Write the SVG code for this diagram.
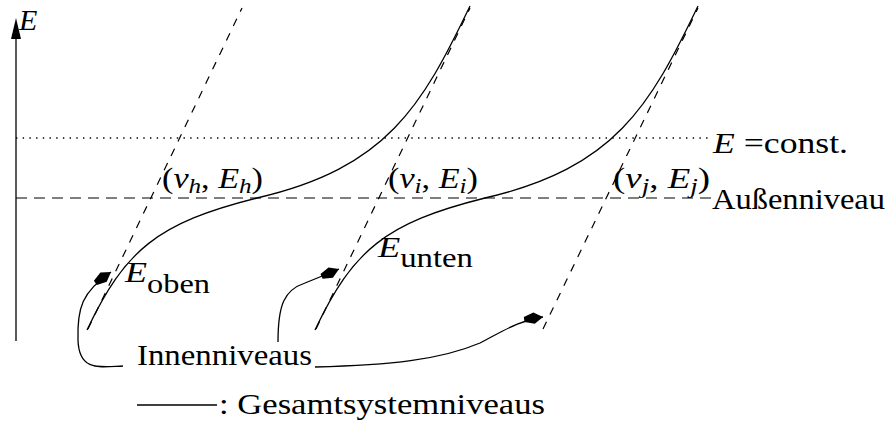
<svg xmlns="http://www.w3.org/2000/svg" width="891" height="431" viewBox="0 0 891 431">
<style>
  .ln { fill: none; stroke: #000; stroke-width: 1.3; }
  .slant { fill: none; stroke: #000; stroke-width: 1.2; stroke-dasharray: 8 8; }
  .hdash { fill: none; stroke: #000; stroke-width: 1.2; stroke-dasharray: 11 7; }
  .dot { fill: none; stroke: #000; stroke-width: 1.4; stroke-dasharray: 1.4 5.3; }
  .m { font-style: italic; }
  .sub { font-size: 22px; }
</style>
<defs>
  <marker id="head" markerUnits="userSpaceOnUse" markerWidth="26" markerHeight="16" viewBox="-22 -8 24 16" refX="0" refY="0" orient="auto">
    <path d="M0,0 L-9,-5.6 L-19,-2.6 L-19,2.6 L-9,5.6 Z" fill="#000"/>
  </marker>
</defs>

<g id="axis">
  <line class="ln" x1="16" y1="341" x2="16" y2="36"/>
  <polygon points="16,18 11,39 21,39" fill="#000"/>
  <text class="m" x="19" y="30" font-family="Liberation Serif, serif" font-size="30">E</text>
</g>

<g id="guides">
  <line class="dot" x1="16" y1="138" x2="711" y2="138"/>
  <line class="hdash" x1="16" y1="198" x2="711" y2="198"/>
  <line class="slant" x1="88" y1="329" x2="242" y2="8"/>
  <line class="slant" x1="316" y1="329" x2="470" y2="8"/>
  <line class="slant" x1="543" y1="329" x2="698" y2="8"/>
</g>

<g id="curves">
  <path class="ln" d="M87,330 C125,250 157,223 257,198 C387,168 422,106 470,6"/>
  <path class="ln" d="M315,330 C353,250 385,223 485,198 C615,168 650,106 698,6"/>
</g>

<g id="labels" font-family="Liberation Serif, serif" font-size="30" fill="#000">
  <text x="162" y="188" textLength="101" lengthAdjust="spacingAndGlyphs">(<tspan class="m">v</tspan><tspan class="m sub" dy="5">h</tspan><tspan dy="-5">, </tspan><tspan class="m">E</tspan><tspan class="m sub" dy="5">h</tspan><tspan dy="-5">)</tspan></text>
  <text x="388" y="188" textLength="90" lengthAdjust="spacingAndGlyphs">(<tspan class="m">v</tspan><tspan class="m sub" dy="5">i</tspan><tspan dy="-5">, </tspan><tspan class="m">E</tspan><tspan class="m sub" dy="5">i</tspan><tspan dy="-5">)</tspan></text>
  <text x="613" y="188" textLength="97" lengthAdjust="spacingAndGlyphs">(<tspan class="m">v</tspan><tspan class="m sub" dy="5">j</tspan><tspan dy="-5">, </tspan><tspan class="m">E</tspan><tspan class="m sub" dy="5">j</tspan><tspan dy="-5">)</tspan></text>
  <text x="713" y="153" textLength="135" lengthAdjust="spacingAndGlyphs"><tspan class="m">E</tspan> =const.</text>
  <text x="712" y="209" textLength="173" lengthAdjust="spacingAndGlyphs">Außenniveau</text>
  <text x="125" y="282" textLength="85" lengthAdjust="spacingAndGlyphs"><tspan class="m">E</tspan><tspan dy="11" font-size="27">oben</tspan></text>
  <text x="378" y="257" textLength="95" lengthAdjust="spacingAndGlyphs"><tspan class="m">E</tspan><tspan dy="10" font-size="27">unten</tspan></text>
  <text x="137" y="365" textLength="175" lengthAdjust="spacingAndGlyphs">Innenniveaus</text>
</g>

<g id="connectors">
  <path class="ln" marker-end="url(#head)" d="M123,366 C100,367 79,372 78,340 C77,308 82,292 111,272"/>
  <path class="ln" marker-end="url(#head)" d="M278,342 C278,305 284,290 305,283 C315,279 325,275 339,269"/>
  <path class="ln" marker-end="url(#head)" d="M315,367 C390,365 440,360 480,343 C505,330 520,320 543,317"/>
</g>

<g id="legend">
  <line class="ln" x1="137" y1="405" x2="217" y2="405"/>
  <text x="219" y="414" font-family="Liberation Serif, serif" font-size="30" textLength="326" lengthAdjust="spacingAndGlyphs">: Gesamtsystemniveaus</text>
</g>
</svg>
